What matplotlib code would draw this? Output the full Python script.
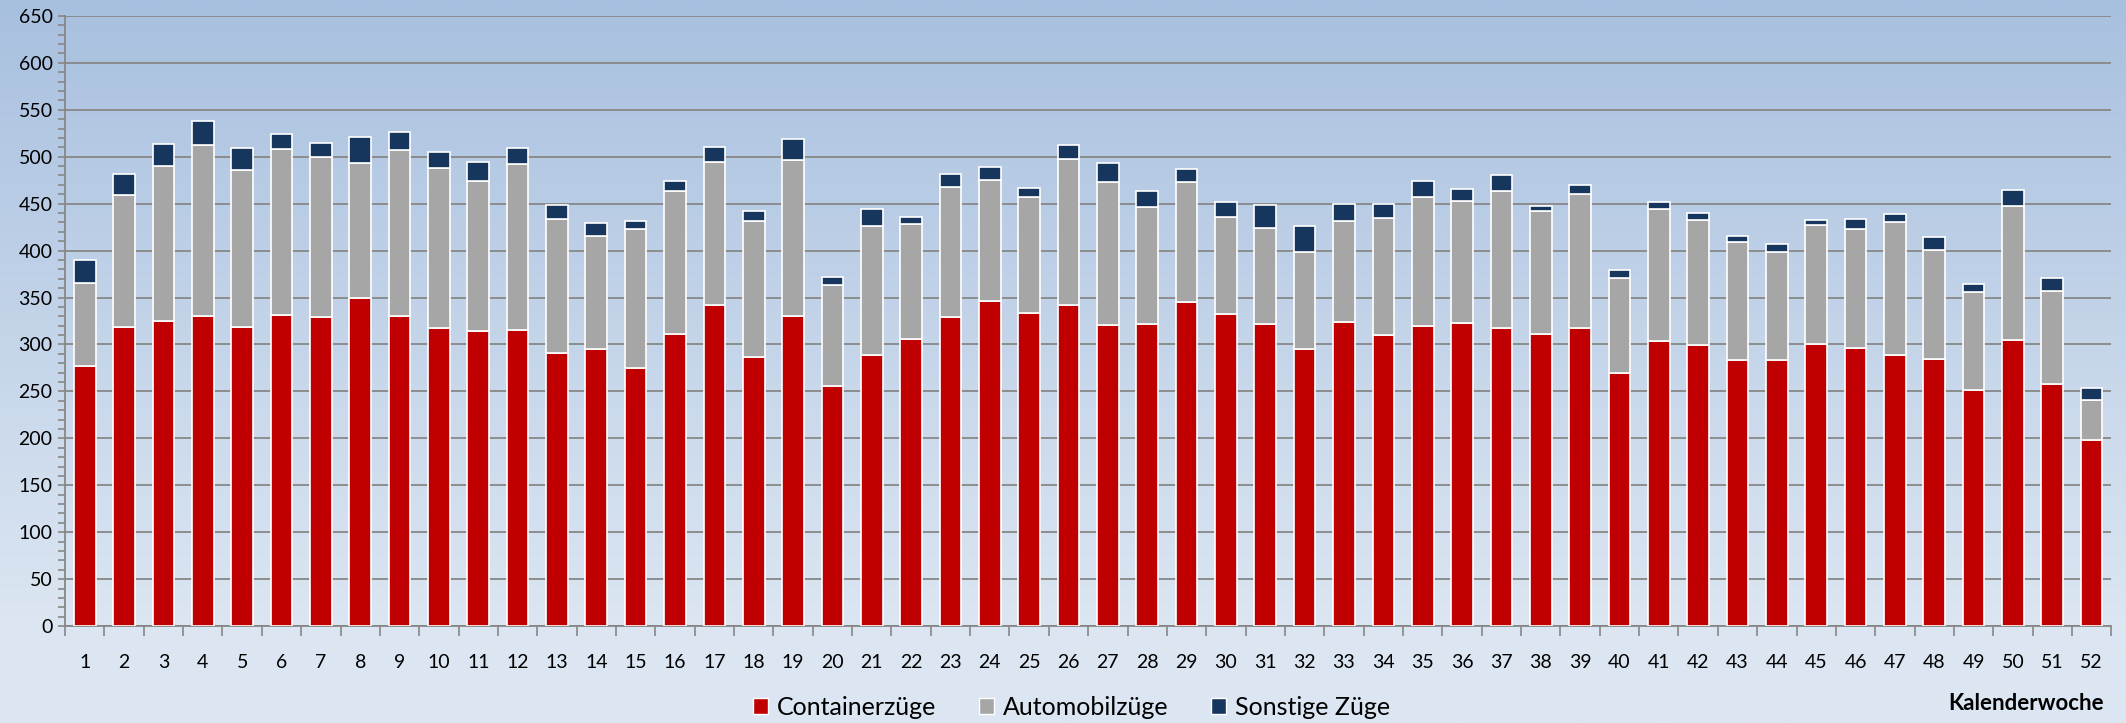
import numpy as np
import matplotlib.pyplot as plt
from matplotlib.colors import LinearSegmentedColormap
from matplotlib.patches import Patch
from matplotlib.ticker import MultipleLocator

plt.rcParams['font.family'] = ['Lato', 'DejaVu Sans']

# Kalenderwoche 1..52
weeks = [str(w) for w in range(1, 53)]
container = [277, 319, 325, 330, 319, 331, 329, 350, 330, 318, 314, 315, 291,
             295, 275, 311, 342, 287, 330, 256, 289, 306, 329, 346, 334, 342,
             321, 322, 345, 333, 322, 295, 324, 310, 320, 323, 318, 311, 318,
             270, 304, 299, 283, 284, 301, 296, 289, 285, 252, 305, 258, 198]
automobil = [88, 140, 165, 182, 167, 177, 171, 143, 177, 170, 160, 177, 143,
             121, 148, 153, 152, 145, 167, 107, 137, 122, 139, 129, 123, 156,
             152, 124, 128, 103, 102, 104, 108, 125, 137, 130, 145, 131, 142,
             101, 140, 134, 126, 114, 126, 127, 142, 116, 104, 142, 99, 43]
sonstige = [25, 23, 24, 26, 23, 16, 15, 28, 19, 17, 20, 17, 15,
            13, 9, 10, 16, 10, 22, 9, 18, 8, 14, 14, 10, 15,
            20, 18, 14, 16, 25, 27, 18, 15, 17, 13, 18, 6, 10,
            8, 8, 7, 7, 9, 6, 11, 8, 14, 8, 18, 14, 13]
series_names = ['Containerzüge', 'Automobilzüge', 'Sonstige Züge']
colors = ['#c00000', '#a6a6a6', '#17365d']
gridcol = '#878787'

fig = plt.figure(figsize=(21.26, 7.23), dpi=100)

#--- Hintergrund (Verlauf) ---#
bg = fig.add_axes([0, 0, 1, 1], zorder=-10)
cmap = LinearSegmentedColormap.from_list('bg', [(0.0, '#dce6f2'), (0.14, '#dce6f2'),
                                                (1.0, '#a8c0df')])
grad = np.linspace(0, 1, 400).reshape(-1, 1)
bg.imshow(grad, cmap=cmap, aspect='auto', origin='lower', extent=[0, 1, 0, 1])
bg.set_axis_off()

ax = fig.add_axes([0.0306, 0.134, 0.9625, 0.844])
ax.patch.set_alpha(0)

x = np.arange(len(weeks))
c = np.array(container)
a = np.array(automobil)
s = np.array(sonstige)
kw = dict(width=0.55, edgecolor='white', linewidth=1.2, zorder=3)
ax.bar(x, c, color=colors[0], **kw)
ax.bar(x, a, bottom=c, color=colors[1], **kw)
ax.bar(x, s, bottom=c + a, color=colors[2], **kw)

ax.set_xlim(-0.5, len(weeks) - 0.5)
ax.set_ylim(0, 650)
ax.yaxis.set_major_locator(MultipleLocator(50))
ax.yaxis.set_minor_locator(MultipleLocator(10))
ax.grid(axis='y', which='major', color=gridcol, linewidth=1.3, zorder=1)
ax.set_axisbelow(True)

ax.set_xticks(x)
ax.set_xticklabels(weeks)
ax.set_xticks(np.arange(-0.5, len(weeks)), minor=True)
ax.tick_params(axis='x', which='major', length=0, pad=20, labelsize=14)
ax.tick_params(axis='x', which='minor', length=7, width=1.2, color=gridcol)
ax.tick_params(axis='y', which='both', length=5, width=1.2, color=gridcol,
               labelsize=14, pad=4)

for sp in ['top', 'right']:
    ax.spines[sp].set_visible(False)
for sp in ['left', 'bottom']:
    ax.spines[sp].set_color(gridcol)
    ax.spines[sp].set_linewidth(1.3)

handles = [Patch(facecolor=col, edgecolor='white', linewidth=1) for col in colors]
fig.legend(handles, series_names, loc='center', bbox_to_anchor=(0.504, 0.022),
           ncol=3, frameon=False, fontsize=18, handlelength=0.6, handleheight=0.6,
           handletextpad=0.35, columnspacing=1.7)

fig.text(0.9895, 0.027, 'Kalenderwoche', ha='right', va='center',
         fontsize=16, fontweight='bold')

fig.savefig('out.png', dpi=100)
